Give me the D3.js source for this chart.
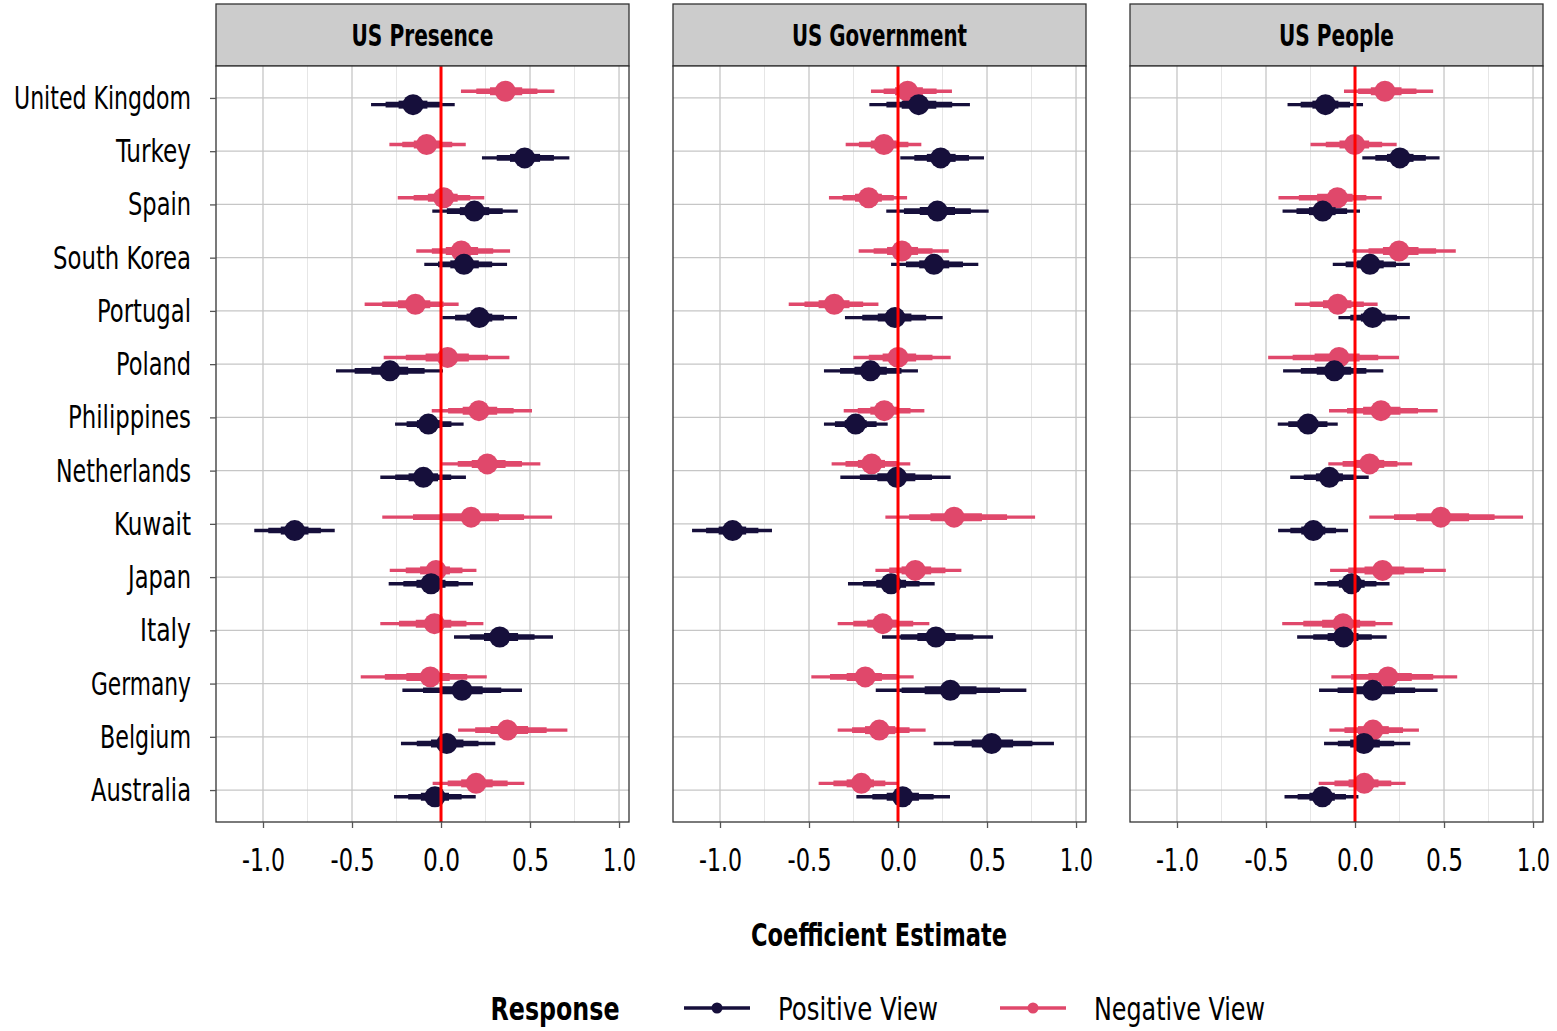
<!DOCTYPE html>
<html>
<head>
<meta charset="utf-8">
<script src="https://cdn.jsdelivr.net/npm/d3@7"></script>
<style>
  html, body { margin: 0; padding: 0; background: #ffffff; }
  svg { display: block; }
  text { font-family: "DejaVu Sans Condensed", "DejaVu Sans", "Liberation Sans Narrow", sans-serif; font-stretch: condensed; fill: #000; }
</style>
</head>
<body>
<svg id="chart" width="1557" height="1031"></svg>
<script>
const countries = ["United Kingdom","Turkey","Spain","South Korea","Portugal","Poland","Philippines","Netherlands","Kuwait","Japan","Italy","Germany","Belgium","Australia"];
const panelTitles = ["US Presence","US Government","US People"];
const responses = ["Positive View","Negative View"];
const xTicks = [-1.0, -0.5, 0.0, 0.5, 1.0];
const xMinorTicks = [-0.75, -0.25, 0.25, 0.75];

// US Presence
const presencePosEst = [-0.157, 0.470, 0.187, 0.129, 0.215, -0.287, -0.071, -0.099, -0.822, -0.056, 0.330, 0.118, 0.032, -0.034];
const presencePosLo  = [-0.393, 0.230, -0.049, -0.094, 0.007, -0.590, -0.258, -0.341, -1.049, -0.294, 0.073, -0.217, -0.225, -0.264];
const presencePosHi  = [0.077, 0.721, 0.431, 0.371, 0.427, 0.011, 0.127, 0.140, -0.597, 0.180, 0.629, 0.455, 0.305, 0.195];
const presenceNegEst = [0.361, -0.081, 0.015, 0.114, -0.144, 0.037, 0.213, 0.260, 0.169, -0.028, -0.037, -0.060, 0.373, 0.197];
const presenceNegLo  = [0.112, -0.290, -0.243, -0.139, -0.429, -0.322, -0.052, 0.006, -0.330, -0.288, -0.341, -0.451, 0.096, -0.047];
const presenceNegHi  = [0.637, 0.139, 0.243, 0.388, 0.099, 0.384, 0.511, 0.558, 0.624, 0.199, 0.238, 0.257, 0.710, 0.468];

// US Government
const governmentPosEst = [0.116, 0.240, 0.221, 0.202, -0.017, -0.155, -0.238, -0.007, -0.929, -0.039, 0.213, 0.294, 0.526, 0.026];
const governmentPosLo  = [-0.161, 0.013, -0.066, -0.039, -0.298, -0.416, -0.416, -0.324, -1.157, -0.281, -0.090, -0.125, 0.200, -0.234];
const governmentPosHi  = [0.404, 0.483, 0.509, 0.451, 0.251, 0.112, -0.058, 0.296, -0.708, 0.206, 0.534, 0.721, 0.876, 0.292];
const governmentNegEst = [0.054, -0.079, -0.165, 0.022, -0.358, 0.000, -0.077, -0.148, 0.315, 0.097, -0.086, -0.184, -0.105, -0.206];
const governmentNegLo  = [-0.152, -0.294, -0.388, -0.221, -0.614, -0.251, -0.305, -0.373, -0.071, -0.127, -0.339, -0.487, -0.339, -0.446];
const governmentNegHi  = [0.303, 0.131, 0.051, 0.285, -0.110, 0.296, 0.148, 0.069, 0.770, 0.356, 0.176, 0.088, 0.155, 0.000];

// US People
const peoplePosEst = [-0.166, 0.252, -0.181, 0.084, 0.099, -0.116, -0.264, -0.144, -0.234, -0.019, -0.064, 0.099, 0.050, -0.183];
const peoplePosLo  = [-0.379, 0.041, -0.407, -0.125, -0.093, -0.404, -0.434, -0.364, -0.432, -0.228, -0.325, -0.202, -0.174, -0.396];
const peoplePosHi  = [0.045, 0.475, 0.028, 0.308, 0.308, 0.159, -0.097, 0.077, -0.039, 0.194, 0.178, 0.464, 0.310, 0.019];
const peopleNegEst = [0.168, -0.002, -0.099, 0.247, -0.097, -0.090, 0.146, 0.082, 0.482, 0.155, -0.067, 0.185, 0.101, 0.052];
const peopleNegLo  = [-0.062, -0.250, -0.430, -0.015, -0.338, -0.488, -0.146, -0.150, 0.080, -0.140, -0.409, -0.133, -0.144, -0.204];
const peopleNegHi  = [0.439, 0.234, 0.150, 0.566, 0.127, 0.247, 0.464, 0.321, 0.944, 0.510, 0.211, 0.574, 0.359, 0.284];

const panelData = [
  { pos: [presencePosEst, presencePosLo, presencePosHi], neg: [presenceNegEst, presenceNegLo, presenceNegHi] },
  { pos: [governmentPosEst, governmentPosLo, governmentPosHi], neg: [governmentNegEst, governmentNegLo, governmentNegHi] },
  { pos: [peoplePosEst, peoplePosLo, peoplePosHi], neg: [peopleNegEst, peopleNegLo, peopleNegHi] }
];

// rendered text widths of the condensed typeface in the reference
const countryWidths = [177, 75, 63, 138, 94, 75, 123, 135, 77, 63, 51, 100, 91, 100];
const tickWidths = { "-1.0": 43, "-0.5": 44, "0.0": 37, "0.5": 37, "1.0": 33 };
const stripWidths = [142, 175, 115];

const colors = { "Positive View": "#160f3b", "Negative View": "#e0486b" };
// interval levels: 95% (thin), 80% (medium), 50% (thick); inner ones scaled from 95% half-widths by normal quantile ratio
const levels = [
  { frac: 1.0, w: 3.4 },
  { frac: 1.2816 / 1.96, w: 5.6 },
  { frac: 0.6745 / 1.96, w: 8.0 }
];

const svg = d3.select("#chart");
const panelX0 = [216, 673, 1130];
const panelW = 413;
const stripTop = 4, panelTop = 66, panelBottom = 822;

const y = d3.scalePoint().domain(countries).range([panelTop, panelBottom]).padding(0.6);
const dodge = 6.7;

panelTitles.forEach((title, pi) => {
  const x0 = panelX0[pi];
  const x = d3.scaleLinear().domain([-1.264, 1.056]).range([x0, x0 + panelW]);
  const g = svg.append("g");

  // strip
  g.append("rect").attr("x", x0).attr("y", stripTop).attr("width", panelW).attr("height", panelTop - stripTop)
    .attr("fill", "#cccccc").attr("stroke", "#333333").attr("stroke-width", 1.3);
  g.append("text").attr("x", x0 + panelW / 2).attr("y", 46).attr("text-anchor", "middle")
    .attr("font-size", 30).attr("font-weight", "bold")
    .attr("textLength", stripWidths[pi]).attr("lengthAdjust", "spacingAndGlyphs").text(title);

  // panel background
  g.append("rect").attr("x", x0).attr("y", panelTop).attr("width", panelW).attr("height", panelBottom - panelTop)
    .attr("fill", "#ffffff");

  // minor grid
  g.selectAll(".minor").data(xMinorTicks).join("line")
    .attr("x1", d => x(d)).attr("x2", d => x(d)).attr("y1", panelTop).attr("y2", panelBottom)
    .attr("stroke", "#e6e6e6").attr("stroke-width", 1);
  // major grid
  g.selectAll(".majorx").data(xTicks).join("line")
    .attr("x1", d => x(d)).attr("x2", d => x(d)).attr("y1", panelTop).attr("y2", panelBottom)
    .attr("stroke", "#c6c6c6").attr("stroke-width", 1.3);
  g.selectAll(".majory").data(countries).join("line")
    .attr("x1", x0).attr("x2", x0 + panelW).attr("y1", d => y(d)).attr("y2", d => y(d))
    .attr("stroke", "#c6c6c6").attr("stroke-width", 1.3);

  // marks: negative first, positive on top
  const series = [
    { name: "Negative View", arr: panelData[pi].neg, off: -dodge },
    { name: "Positive View", arr: panelData[pi].pos, off: dodge }
  ];
  series.forEach(s => {
    const [est, lo, hi] = s.arr;
    const col = colors[s.name];
    const sg = g.append("g");
    countries.forEach((c, i) => {
      const cy = y(c) + s.off;
      levels.forEach(lv => {
        const a = est[i] - (est[i] - lo[i]) * lv.frac;
        const b = est[i] + (hi[i] - est[i]) * lv.frac;
        sg.append("line").attr("x1", x(a)).attr("x2", x(b)).attr("y1", cy).attr("y2", cy)
          .attr("stroke", col).attr("stroke-width", lv.w);
      });
      sg.append("circle").attr("cx", x(est[i])).attr("cy", cy).attr("r", 10.5).attr("fill", col);
    });
  });

  // zero line
  g.append("line").attr("x1", x(0)).attr("x2", x(0)).attr("y1", panelTop).attr("y2", panelBottom)
    .attr("stroke", "#ff0000").attr("stroke-width", 3);

  // panel border
  g.append("rect").attr("x", x0).attr("y", panelTop).attr("width", panelW).attr("height", panelBottom - panelTop)
    .attr("fill", "none").attr("stroke", "#333333").attr("stroke-width", 1.3);

  // x axis
  const fmt = d => d.toFixed(1);
  const ax = g.append("g").attr("transform", `translate(0,${panelBottom})`)
    .call(d3.axisBottom(x).tickValues(xTicks).tickSize(6).tickPadding(20).tickFormat(fmt));
  ax.select(".domain").remove();
  ax.selectAll(".tick line").attr("stroke", "#555555").attr("stroke-width", 1.3);
  ax.selectAll(".tick text").attr("font-size", 32).attr("fill", "#000")
    .attr("font-family", null)
    .attr("textLength", d => tickWidths[fmt(d)]).attr("lengthAdjust", "spacingAndGlyphs");

  if (pi === 0) {
    const ay = g.append("g").attr("transform", `translate(${x0},0)`)
      .call(d3.axisLeft(y).tickSize(6).tickPadding(19));
    ay.select(".domain").remove();
    ay.selectAll(".tick line").attr("stroke", "#555555").attr("stroke-width", 1.3);
    ay.selectAll(".tick text").attr("font-size", 32).attr("fill", "#000").attr("dy", "0.33em")
      .attr("font-family", null)
      .attr("textLength", (d, i) => countryWidths[countries.indexOf(d)]).attr("lengthAdjust", "spacingAndGlyphs");
  }
});

// axis title
svg.append("text").attr("x", 879).attr("y", 946).attr("text-anchor", "middle")
  .attr("font-size", 32).attr("font-weight", "bold")
  .attr("textLength", 256).attr("lengthAdjust", "spacingAndGlyphs").text("Coefficient Estimate");

// legend
const leg = svg.append("g");
leg.append("text").attr("x", 555).attr("y", 1020).attr("text-anchor", "middle")
  .attr("font-size", 32).attr("font-weight", "bold")
  .attr("textLength", 129).attr("lengthAdjust", "spacingAndGlyphs").text("Response");
const legItems = [
  { name: responses[0], kx: 684, tx: 778, w: 160 },
  { name: responses[1], kx: 1000, tx: 1094, w: 171 }
];
legItems.forEach(it => {
  leg.append("line").attr("x1", it.kx).attr("x2", it.kx + 66).attr("y1", 1008).attr("y2", 1008)
    .attr("stroke", colors[it.name]).attr("stroke-width", 3.4);
  leg.append("circle").attr("cx", it.kx + 33).attr("cy", 1008).attr("r", 5.5).attr("fill", colors[it.name]);
  leg.append("text").attr("x", it.tx).attr("y", 1020).attr("font-size", 32)
    .attr("textLength", it.w).attr("lengthAdjust", "spacingAndGlyphs").text(it.name);
});
</script>
</body>
</html>
